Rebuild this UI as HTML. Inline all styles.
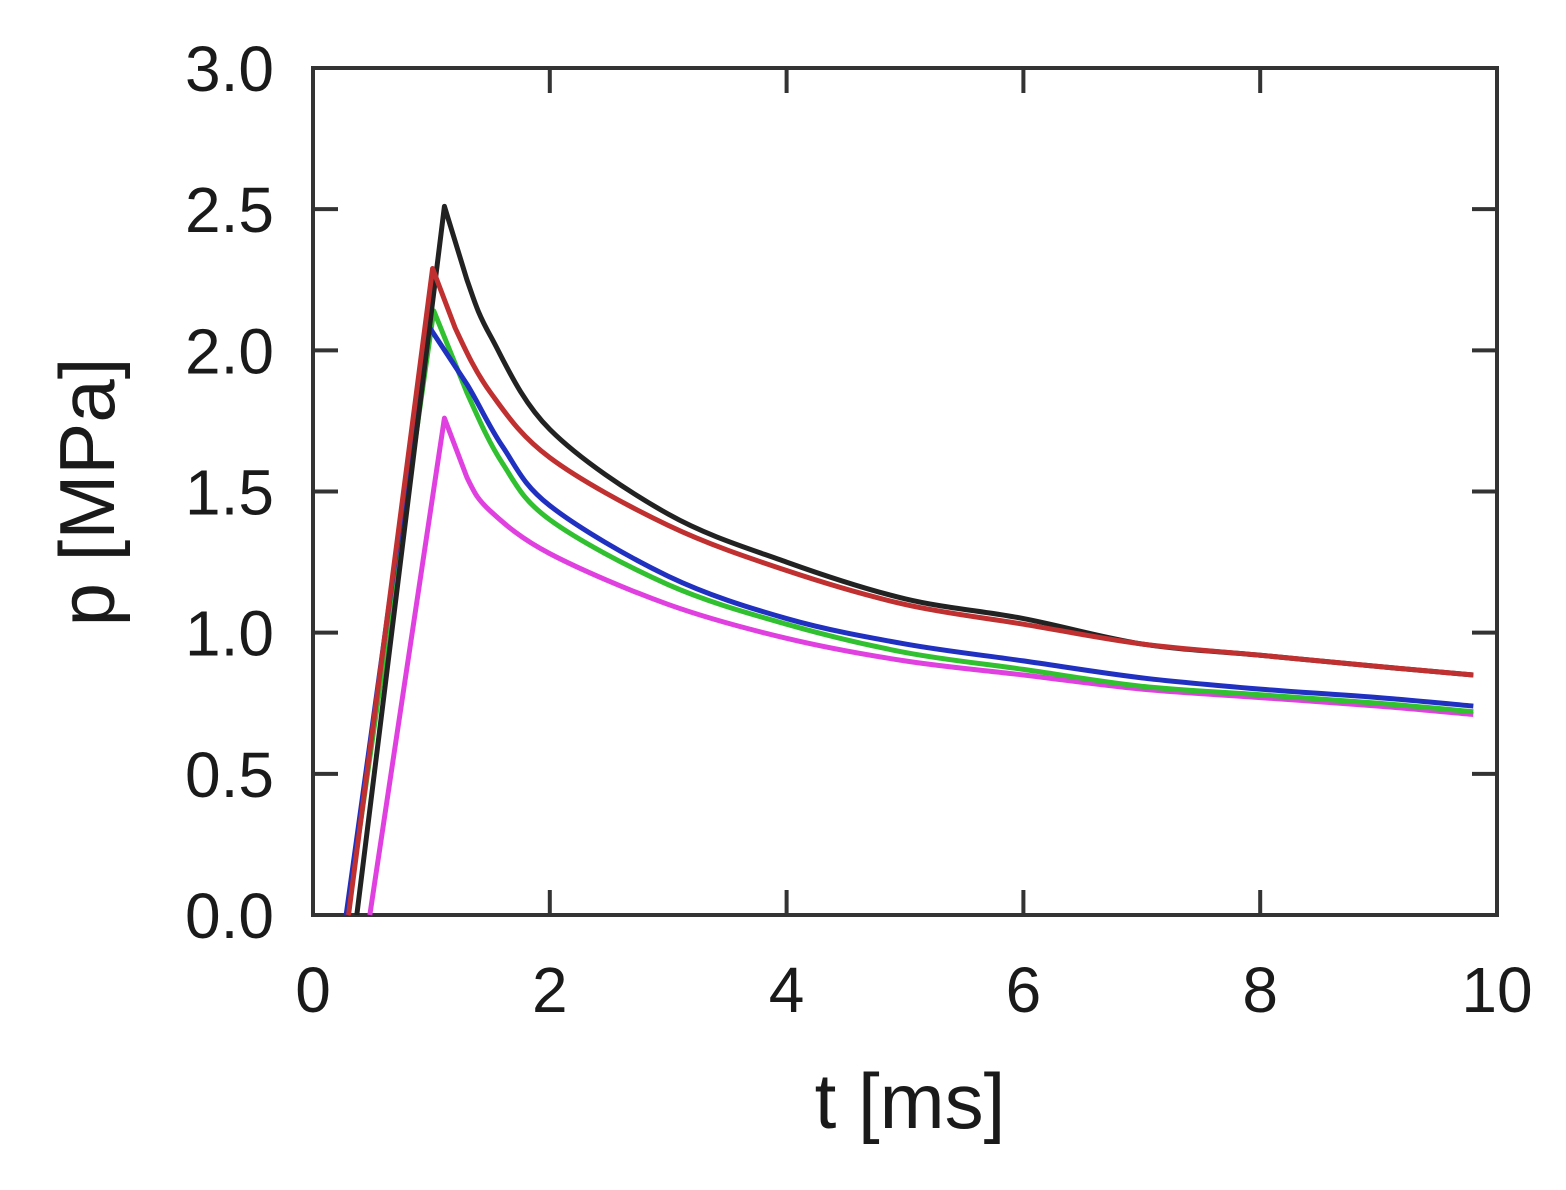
<!DOCTYPE html>
<html><head><meta charset="utf-8"><style>
body{margin:0;background:#fff}
svg text{font-family:"Liberation Sans",sans-serif;fill:#1a1a1a}
</style></head><body>
<svg id="s" width="1566" height="1185" xmlns="http://www.w3.org/2000/svg">
<rect x="313" y="68" width="1184" height="847" fill="none" stroke="#333" stroke-width="4"/>
<g id="ticks" stroke="#333" stroke-width="4"></g>
<g id="lab" font-size="64" text-anchor="end"></g>
<g id="xl" font-size="64" text-anchor="middle"></g>
<text x="910" y="1128" font-size="78" text-anchor="middle">t [ms]</text>
<text transform="translate(114,492) rotate(-90)" font-size="78" text-anchor="middle">p [MPa]</text>
<g id="curves" fill="none" stroke-width="5" stroke-linejoin="round"></g>
</svg>
<script>
var X=t=>313+t*118.4, Y=p=>915-p*282.33, NS="http://www.w3.org/2000/svg";
function el(g,n,a,txt){var e=document.createElementNS(NS,n);for(var k in a)e.setAttribute(k,a[k]);if(txt)e.textContent=txt;document.getElementById(g).appendChild(e);}
for(var i=0;i<=6;i++){var p=i*0.5,y=Y(p);
 if(i>0&&i<6){el('ticks','line',{x1:313,x2:338,y1:y,y2:y});el('ticks','line',{x1:1472,x2:1497,y1:y,y2:y});}
 el('lab','text',{x:274,y:y+23},p.toFixed(1));}
for(var i=0;i<=5;i++){var t=i*2,x=X(t);
 if(i>0&&i<5){el('ticks','line',{x1:x,x2:x,y1:915,y2:890});el('ticks','line',{x1:x,x2:x,y1:68,y2:93});}
 el('xl','text',{x:x,y:1012},String(t));}
var C=[
 ['#e040e0',[[0.48,0],[1.11,1.76],[1.3,1.55],[1.5,1.43],[2,1.28],[3,1.1],[4,0.98],[5,0.9],[6,0.85],[7,0.8],[8,0.77],[9,0.74],[9.8,0.71]]],
 ['#30c030',[[0.29,0],[1.02,2.14],[1.3,1.85],[1.6,1.6],[2,1.4],[3,1.17],[4,1.03],[5,0.93],[6,0.87],[7,0.81],[8,0.78],[9,0.75],[9.8,0.72]]],
 ['#2030c0',[[0.28,0],[0.97,2.09],[1.3,1.88],[1.6,1.66],[2,1.45],[3,1.2],[4,1.05],[5,0.96],[6,0.9],[7,0.84],[8,0.8],[9,0.77],[9.8,0.74]]],
 ['#222',[[0.37,0],[1.11,2.51],[1.3,2.25],[1.5,2.05],[2,1.72],[3,1.42],[4,1.25],[5,1.12],[6,1.05],[7,0.96],[8,0.92],[9,0.88],[9.8,0.85]]],
 ['#c03030',[[0.3,0],[1.01,2.29],[1.2,2.08],[1.5,1.85],[2,1.62],[3,1.38],[4,1.22],[5,1.1],[6,1.03],[7,0.96],[8,0.92],[9,0.88],[9.8,0.85]]]
];
C.forEach(c=>{var pts=c[1].map(q=>[X(q[0]),Y(q[1])]),d='M'+pts[0];
 for(var i=0;i<pts.length-1;i++){var p0=pts[Math.max(0,i-1)],p1=pts[i],p2=pts[i+1],p3=pts[Math.min(pts.length-1,i+2)];
  if(i<=1){d+='L'+p2;continue;}
  var c1=[p1[0]+(p2[0]-p0[0])/6,p1[1]+(p2[1]-p0[1])/6],c2=[p2[0]-(p3[0]-p1[0])/6,p2[1]-(p3[1]-p1[1])/6];
  d+='C'+c1+' '+c2+' '+p2;}
 el('curves','path',{d:d,stroke:c[0]});});
</script>
</body></html>
